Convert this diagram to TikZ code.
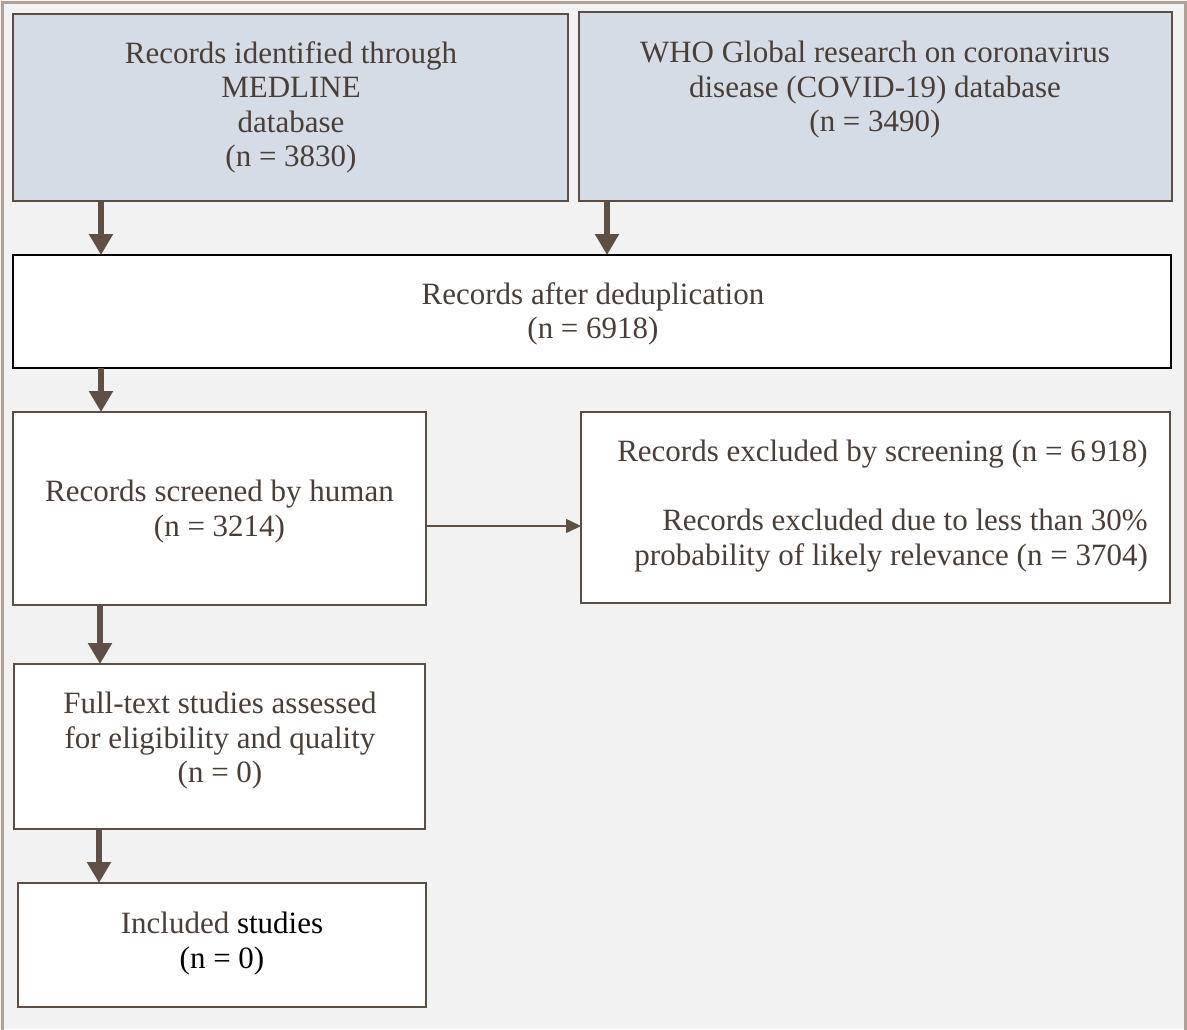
\documentclass[tikz,border=0pt]{standalone}
\usepackage{fontspec}
\setmainfont{Liberation Serif}
\usetikzlibrary{arrows.meta}
\definecolor{bg}{HTML}{F2F2F2}
\definecolor{blu}{HTML}{D6DCE5}
\definecolor{brd}{HTML}{5A4E47}
\definecolor{txt}{HTML}{4A3F38}
\definecolor{arr}{HTML}{5E5046}
\definecolor{frm}{HTML}{B0A096}
\begin{document}
\begin{tikzpicture}[x=1pt,y=-1pt,
  box/.style={draw=brd,line width=2pt,fill=white,outer sep=0pt,inner sep=0pt,anchor=north west},
  lbl/.style={text=txt,align=center,font=\fontsize{31}{34.5}\selectfont,inner sep=0pt},
  bigarrow/.style={draw=arr,line width=6pt,-{Triangle[width=23pt,length=21pt]}},
  thinarrow/.style={draw=arr,line width=1.5pt,-{Triangle[width=14pt,length=15pt]}}]
\useasboundingbox (0,0) rectangle (1187,1029);
\fill[bg] (0,0) rectangle (1187,1029);
\draw[frm,line width=3pt] (2,1032) -- (2,2) -- (1185,2) -- (1185,1032);
% boxes
\node[box,fill=blu,minimum width=555pt,minimum height=187pt] (A) at (13,14) {};
\node[box,fill=blu,minimum width=593pt,minimum height=189pt] (B) at (579,12) {};
\node[box,draw=black,line width=2.5pt,minimum width=1158pt,minimum height=113pt] (C) at (13,255) {};
\node[box,minimum width=413pt,minimum height=193pt] (D) at (13,412) {};
\node[box,minimum width=589pt,minimum height=191pt] (E) at (581,412) {};
\node[box,minimum width=411pt,minimum height=165pt] (F) at (14,664) {};
\node[box,minimum width=408pt,minimum height=124pt] (G) at (18,883) {};
% texts
\node[lbl] (tA) at (291,107.5) {Records identified through\\MEDLINE\\database\\(n = 3830)};
\node[lbl] (tB) at (875,90) {WHO Global research on coronavirus\\disease (COVID-19) database\\(n = 3490)};
\node[lbl] (tC) at (593,314) {Records after deduplication\\(n = 6918)};
\node[lbl] (tD) at (219.5,511.5) {Records screened by human\\(n = 3214)};
\node[lbl,align=right,anchor=east] (tE) at (1148,506) {Records excluded by screening (n = 6\,918)\\[34.5pt]Records excluded due to less than 30\%\\probability of likely relevance (n = 3704)};
\node[lbl] (tF) at (220,741) {Full-text studies assessed\\for eligibility and quality\\(n = 0)};
\node[lbl] (tG) at (222,943.5) {Included \textcolor{black}{studies}\\\textcolor{black}{(n = 0)}};
% connectors
\coordinate (x1) at (101,0);
\coordinate (x2) at (607,0);
\coordinate (x3) at (101,0);
\coordinate (x4) at (100,0);
\coordinate (x5) at (99,0);
\coordinate (y6) at (0,526);
\draw[bigarrow] (A.south -| x1) -- (C.north -| x1);
\draw[bigarrow] (B.south -| x2) -- (C.north -| x2);
\draw[bigarrow] (C.south -| x3) -- (D.north -| x3);
\draw[bigarrow] (D.south -| x4) -- (F.north -| x4);
\draw[bigarrow] (F.south -| x5) -- (G.north -| x5);
\draw[thinarrow] (D.east |- y6) -- (E.west |- y6);
\end{tikzpicture}
\end{document}
